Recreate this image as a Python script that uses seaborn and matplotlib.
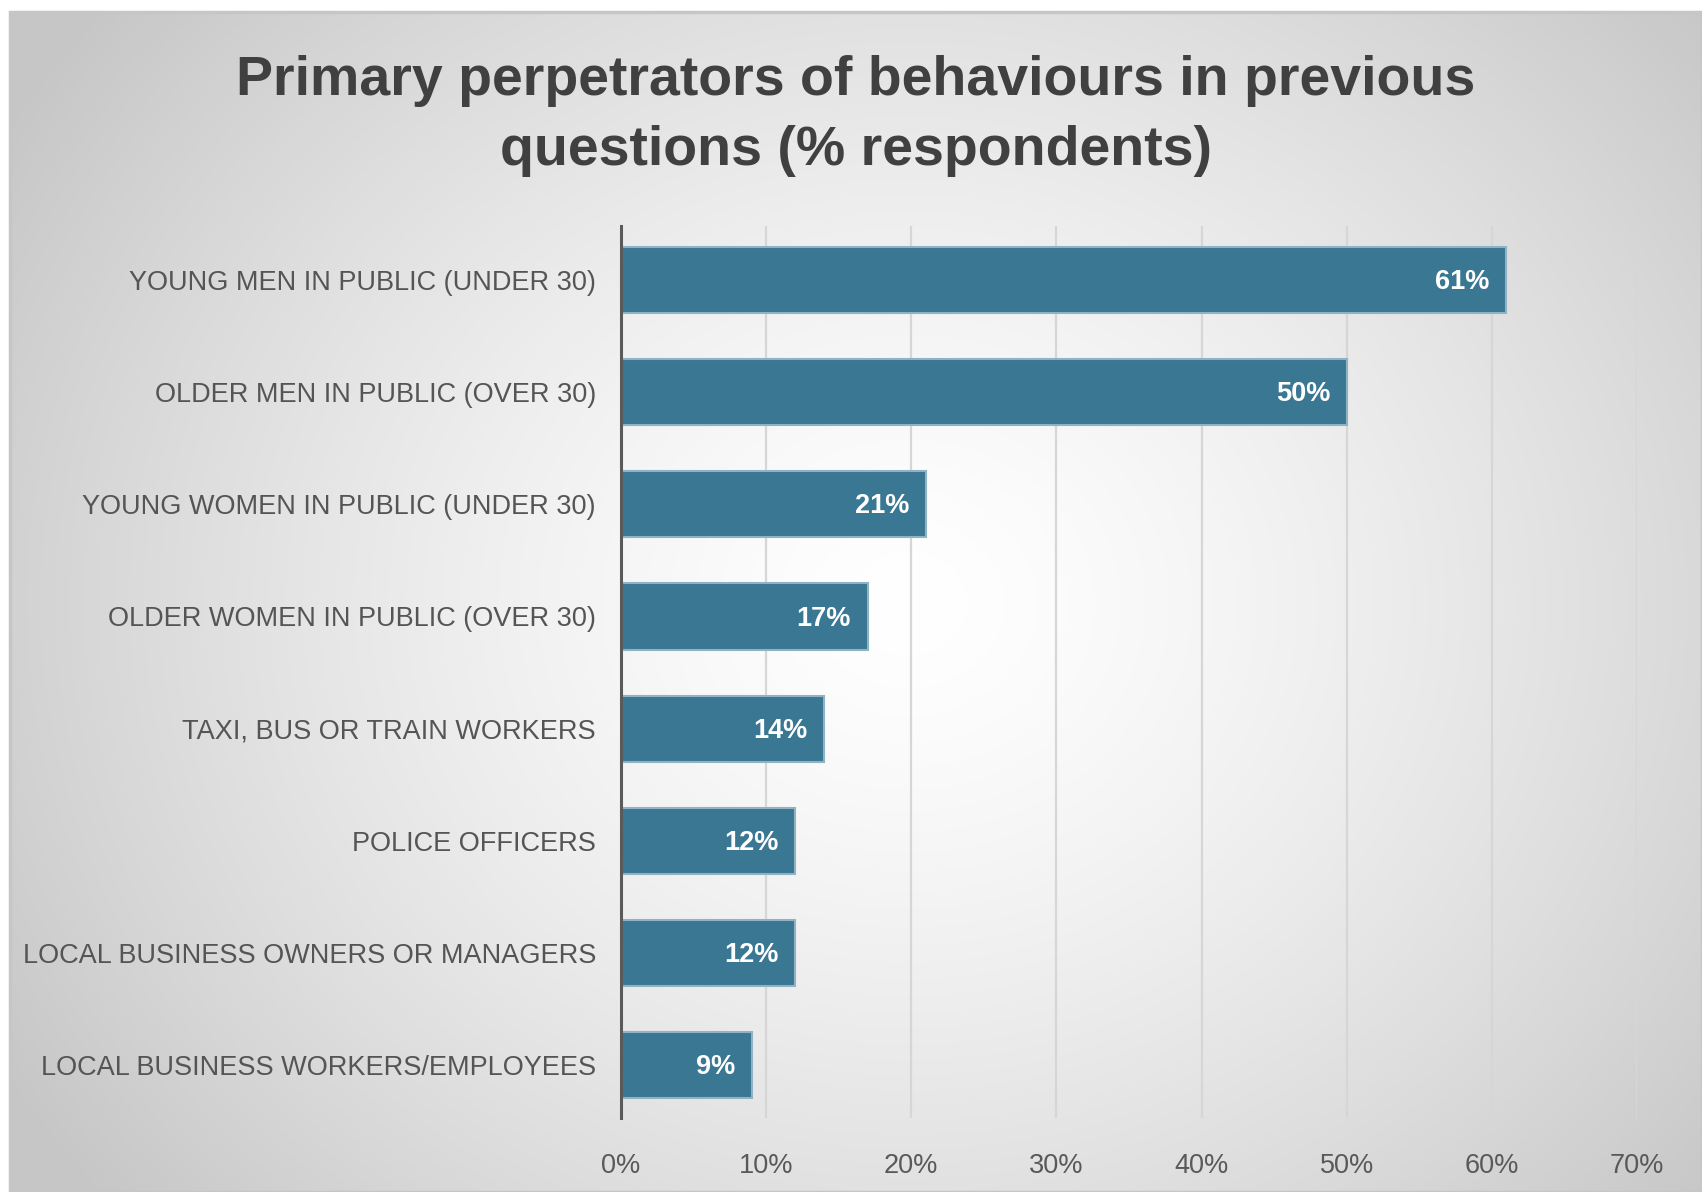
import numpy as np
import pandas as pd
import matplotlib
matplotlib.use("Agg")
import matplotlib.pyplot as plt
from matplotlib.patches import Rectangle
import seaborn as sns

# Survey results: share of respondents naming each group as primary perpetrator
categories = [
    "YOUNG MEN IN PUBLIC (UNDER 30)",
    "OLDER MEN IN PUBLIC (OVER 30)",
    "YOUNG WOMEN IN PUBLIC (UNDER 30)",
    "OLDER WOMEN IN PUBLIC (OVER 30)",
    "TAXI, BUS OR TRAIN WORKERS",
    "POLICE OFFICERS",
    "LOCAL BUSINESS OWNERS OR MANAGERS",
    "LOCAL BUSINESS WORKERS/EMPLOYEES",
]
percent = [61, 50, 21, 17, 14, 12, 12, 9]
x_ticks = [0, 10, 20, 30, 40, 50, 60, 70]
x_tick_labels = ["0%", "10%", "20%", "30%", "40%", "50%", "60%", "70%"]
title = "Primary perpetrators of behaviours in previous\nquestions (% respondents)"

df = pd.DataFrame({"group": categories, "pct": percent})

sns.set_theme(style="white")
plt.rcParams["font.family"] = ["Liberation Sans", "DejaVu Sans"]

W, H = 1702, 1192
fig = plt.figure(figsize=(W / 100, H / 100), dpi=100)
fig.patch.set_facecolor("white")

# Panel with a soft radial grey-to-white gradient
px0, py0 = 10, 12
bg = fig.add_axes([px0 / W, 0, (W - px0) / W, (H - py0) / H], zorder=0)
gh, gw = 400, 580
yy, xx = np.mgrid[0:gh, 0:gw]
cx, cy = 0.53 * gw, 0.50 * gh
r = np.sqrt(((xx - cx) / (0.62 * gw)) ** 2 + ((yy - cy) / (0.78 * gh)) ** 2)
shade = 1.0 - 0.22 * np.clip(r, 0, 1) ** 1.4
bg.imshow(np.dstack([shade] * 3), aspect="auto", extent=[0, 1, 0, 1],
          interpolation="bilinear")
bg.set_xlim(0, 1)
bg.set_ylim(0, 1)
bg.axis("off")
bg.add_patch(Rectangle((0, 0), 1, 1, transform=bg.transAxes, fill=False,
                       edgecolor="#c6c6c6", linewidth=2.5, clip_on=False))

# Plot area
left, right, top, bottom = 621, 1637, 226, 1118
ax = fig.add_axes([left / W, (H - bottom) / H, (right - left) / W, (bottom - top) / H],
                  zorder=1)
ax.patch.set_alpha(0)

sns.barplot(data=df, x="pct", y="group", orient="h", color="#3a7793",
            saturation=1, width=0.59, edgecolor="#8fb2c4", linewidth=1.5, ax=ax)

ax.set_xlim(0, 70)
ax.set_ylim(len(categories) - 0.53, -0.48)
ax.set_xticks(x_ticks)
ax.set_xticklabels(x_tick_labels)
ax.set_xlabel("")
ax.set_ylabel("")

ax.grid(axis="x", color="#d6d6d6", linewidth=1.6)
ax.grid(axis="y", visible=False)
ax.set_axisbelow(True)

for side in ["top", "right", "bottom"]:
    ax.spines[side].set_visible(False)
ax.spines["left"].set_color("#5a5a5a")
ax.spines["left"].set_linewidth(2.2)
ax.spines["left"].set_zorder(3)

ax.tick_params(axis="x", length=0, pad=25, labelsize=19.5, labelcolor="#595959")
ax.tick_params(axis="y", length=0, pad=18, labelsize=19.5, labelcolor="#555555")

# Value labels inside the end of each bar
for patch, v in zip(ax.containers[0].patches, df["pct"]):
    ax.annotate(f"{v}%",
                xy=(patch.get_width(), patch.get_y() + patch.get_height() / 2),
                xytext=(-12, -1.5), textcoords="offset points",
                ha="right", va="center", color="white",
                fontsize=19.5, fontweight="bold", zorder=4)

fig.text(856 / W, 1 - 116 / H, title, ha="center", va="center",
         fontsize=40, fontweight="bold", color="#404040", linespacing=1.47)

fig.savefig("out.png", dpi=100, facecolor=fig.get_facecolor())
